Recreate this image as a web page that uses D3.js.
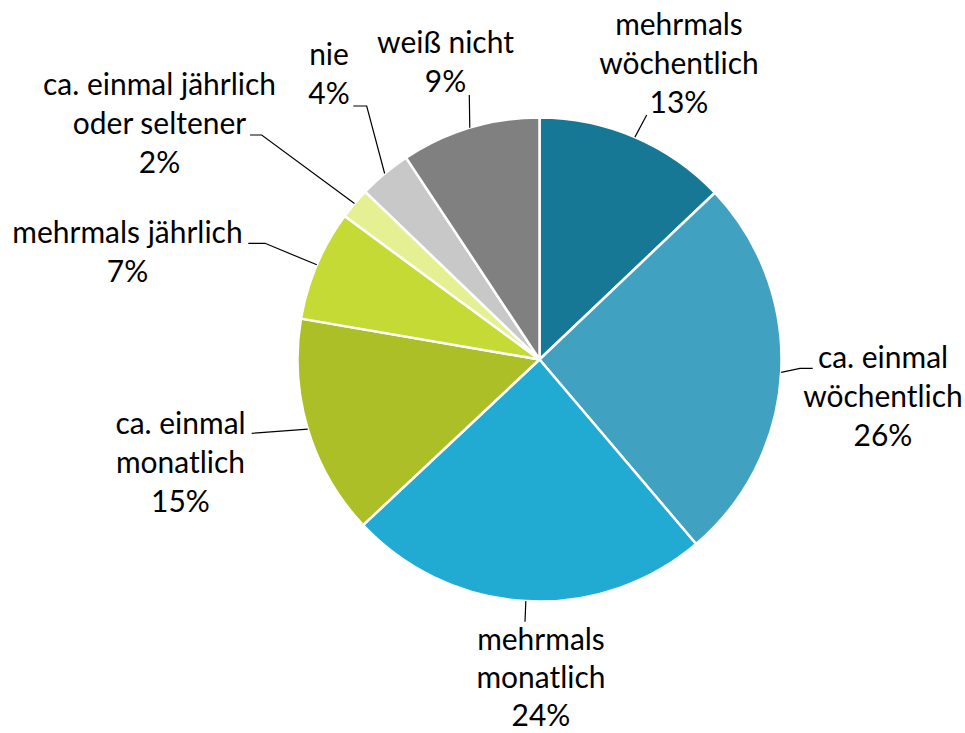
<!DOCTYPE html>
<html>
<head>
<meta charset="utf-8">
<script src="https://cdn.jsdelivr.net/npm/d3@7"></script>
<style>
  html, body { margin: 0; padding: 0; background: #fff; }
  svg { display: block; }
</style>
</head>
<body>
<svg id="chart" width="965" height="733"></svg>
<script>
// ---- data ----
const categories = [
  "mehrmals wöchentlich",
  "ca. einmal wöchentlich",
  "mehrmals monatlich",
  "ca. einmal monatlich",
  "mehrmals jährlich",
  "ca. einmal jährlich oder seltener",
  "nie",
  "weiß nicht"
];
const values = [12.9, 25.9, 24.2, 14.7, 7.4, 2.1, 3.5, 9.3];
const percentLabels = ["13%", "26%", "24%", "15%", "7%", "2%", "4%", "9%"];
const labelLines = [
  ["mehrmals", "wöchentlich"],
  ["ca. einmal", "wöchentlich"],
  ["mehrmals", "monatlich"],
  ["ca. einmal", "monatlich"],
  ["mehrmals jährlich"],
  ["ca. einmal jährlich", "oder seltener"],
  ["nie"],
  ["weiß nicht"]
];
const colors = ["#177895", "#41A1C1", "#21AAD2", "#ADBF27", "#C6DA35", "#E5F093", "#C8C8C8", "#808080"];

// ---- layout (label placement, as in the original manually placed labels) ----
const cx = 539.5, cy = 359.5, radius = 242;
const labelLayout = [
  { x: 679,   y: 35,    lh: 39,   leader: [[646.7, 115]] },
  { x: 883,   y: 368.3, lh: 39,   leader: [[800, 368.3], [812.7, 368.3]] },
  { x: 541,   y: 650,   lh: 38,   leader: [[525, 621.7]] },
  { x: 180.5, y: 434.3, lh: 39,   leader: [[251.7, 433.3]] },
  { x: 127.5, y: 243.3, lh: 39,   leader: [[265, 243.3], [248.3, 243.3]] },
  { x: 159.5, y: 95,    lh: 39,   leader: [[261.7, 135], [250, 135]] },
  { x: 329,   y: 65,    lh: 39,   leader: [[366.7, 106], [353.3, 106]] },
  { x: 445.5, y: 53.3,  lh: 39,   leader: [[469.3, 95]] }
];
const fontFamily = "Lato, 'Open Sans', sans-serif";

const svg = d3.select("#chart");

// compute font size so the text width matches the original (Calibri ~32px)
const probe = svg.append("text")
  .attr("font-family", fontFamily)
  .attr("font-size", 32)
  .text("ca. einmal jährlich");
const probeW = probe.node().getComputedTextLength();
probe.remove();
const fontSize = probeW > 0 ? 32 * 233 / probeW : 29;

const data = categories.map((c, i) => ({ name: c, value: values[i], idx: i }));

const pie = d3.pie().sort(null).value(d => d.value).startAngle(0).endAngle(2 * Math.PI);
const arcs = pie(data);
const arc = d3.arc().innerRadius(0).outerRadius(radius);

const g = svg.append("g").attr("transform", `translate(${cx},${cy})`);

g.selectAll("path.slice")
  .data(arcs)
  .join("path")
  .attr("class", "slice")
  .attr("d", arc)
  .attr("fill", d => colors[d.data.idx])
  .attr("stroke", "#fff")
  .attr("stroke-width", 2.5)
  .attr("stroke-linejoin", "round");

// leader lines: start at arc midpoint on the outer edge
const line = d3.line();
svg.selectAll("path.leader")
  .data(arcs)
  .join("path")
  .attr("class", "leader")
  .attr("d", d => {
    const a = (d.startAngle + d.endAngle) / 2;
    const start = [cx + radius * Math.sin(a), cy - radius * Math.cos(a)];
    return line([start, ...labelLayout[d.data.idx].leader]);
  })
  .attr("fill", "none")
  .attr("stroke", "#000")
  .attr("stroke-width", 1.2);

// labels
const lab = svg.selectAll("text.label")
  .data(arcs)
  .join("text")
  .attr("class", "label")
  .attr("font-family", fontFamily)
  .attr("font-size", fontSize)
  .attr("fill", "#000")
  .attr("text-anchor", "middle");

lab.each(function(d) {
  const L = labelLayout[d.data.idx];
  const lines = labelLines[d.data.idx].concat([percentLabels[d.data.idx]]);
  d3.select(this).selectAll("tspan")
    .data(lines)
    .join("tspan")
    .attr("x", L.x)
    .attr("y", (t, j) => L.y + j * L.lh)
    .text(t => t);
});
</script>
</body>
</html>
